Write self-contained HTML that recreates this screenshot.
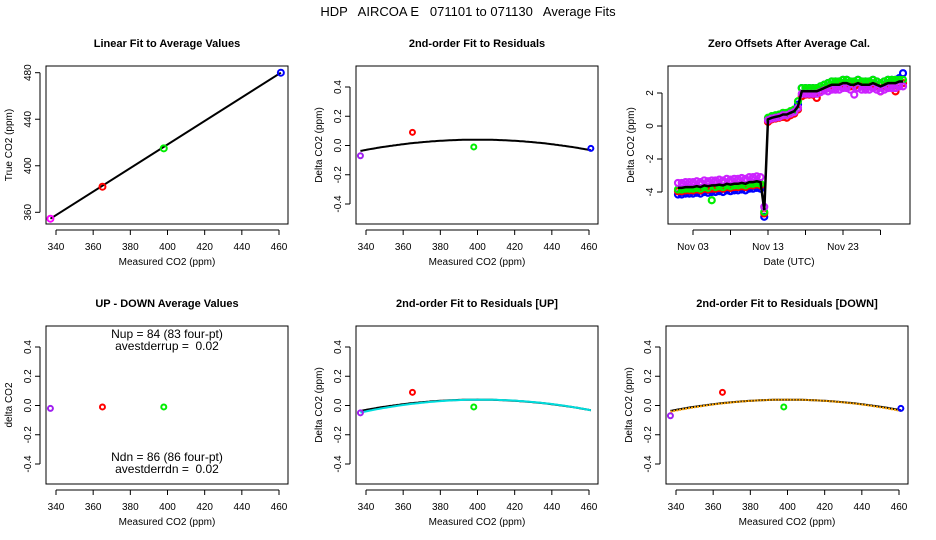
<!DOCTYPE html>
<html><head><meta charset="utf-8">
<style>
body{margin:0;background:#fff;}
svg{display:block;font-family:"Liberation Sans",Arial,sans-serif;}
</style></head>
<body>
<svg id="s" width="936" height="540" viewBox="0 0 936 540">
<rect width="936" height="540" fill="#fff"/>
<text x="468" y="16" text-anchor="middle" font-size="13" style="white-space:pre" xml:space="preserve">HDP   AIRCOA E   071101 to 071130   Average Fits</text>
</svg>
<script>
// ---------- data ----------
const calX = [337, 365, 398, 461];
const calTrue = [354.5, 382, 415, 480];
const calColors = ['#a020f0', '#ff0000', '#00ee00', '#0000ff'];
const resid = [-0.07, 0.09, -0.01, -0.02];
const residUp = [-0.05, 0.09, -0.01, null];
const residDn = [-0.07, 0.09, -0.01, -0.02];
const diffUD = [-0.02, -0.01, -0.01, null];
const fitPeak = [400, 0.04, -0.07/3600]; // vertex x, vertex y, curvature
const fitUpPeak = [402, 0.04, -0.075/3600];
const fitDnPeak = [400, 0.04, -0.075/3600];
const deltaTicks = [-0.4, -0.2, 0.0, 0.2, 0.4];
const deltaTickLabels = ['-0.4', '-0.2', '0.0', '0.2', '0.4'];
const co2Ticks = [340, 360, 380, 400, 420, 440, 460];
const trueTicks = [360, 400, 440, 480];
const offTicks = [-4, -2, 0, 2];
const dateTicks = [3, 8, 13, 18, 23, 28];
const dateLabels = ['Nov 03', '', 'Nov 13', '', 'Nov 23', ''];
const tStart = 1, tStep = 0.5;
const offBlack = [-3.75,-3.75,-3.7,-3.7,-3.7,-3.65,-3.7,-3.6,-3.65,-3.6,-3.6,-3.55,-3.6,-3.5,-3.55,-3.5,-3.5,-3.45,-3.5,-3.4,-3.4,-3.35,-3.4,-5.1,0.4,0.5,0.55,0.6,0.7,0.7,0.8,0.9,1.2,2.1,2.1,2.1,2.1,2.1,2.2,2.3,2.4,2.5,2.5,2.5,2.6,2.6,2.5,2.5,2.6,2.5,2.5,2.5,2.6,2.5,2.4,2.5,2.6,2.6,2.6,2.7,2.7];
const offBlue = [-4.15,-4.15,-4.1,-4.1,-4.1,-4.05,-4.1,-4.0,-4.05,-4.0,-4.0,-3.95,-4.0,-3.9,-3.95,-3.9,-3.9,-3.85,-3.9,-3.8,-3.8,-3.75,-3.8,-5.5,0.45,0.55,0.6,0.65,0.75,0.75,0.85,0.95,1.3,2.3,2.3,2.3,2.3,2.3,2.4,2.5,2.6,2.7,2.7,2.7,2.8,2.8,2.7,2.7,2.8,2.7,2.7,2.7,2.8,2.7,2.6,2.7,2.8,2.8,2.8,2.9,3.2];
const offRed = [-3.95,-3.95,-3.9,-3.9,-3.9,-3.85,-3.9,-3.8,-3.85,-3.8,-3.8,-3.75,-3.8,-3.7,-3.75,-3.7,-3.7,-3.65,-3.7,-3.6,-3.6,-3.55,-3.6,-5.3,0.25,0.4,0.45,0.5,0.55,0.5,0.65,0.75,1.0,1.8,1.9,1.9,1.9,1.7,2.1,2.2,2.3,2.4,2.4,2.4,2.5,2.5,2.4,2.4,2.5,2.4,2.4,2.4,2.5,2.4,2.1,2.4,2.5,2.5,2.1,2.6,2.6];
const offGreen = [-3.85,-3.85,-3.8,-3.8,-3.8,-3.75,-3.8,-3.7,-3.75,-4.5,-3.7,-3.65,-3.7,-3.6,-3.65,-3.6,-3.6,-3.55,-3.6,-3.5,-3.5,-3.45,-3.5,-5.2,0.5,0.6,0.65,0.7,0.8,0.8,0.9,1.0,1.5,2.3,2.3,2.3,2.3,2.3,2.4,2.5,2.6,2.7,2.7,2.7,2.8,2.8,2.7,2.7,2.8,2.7,2.7,2.7,2.8,2.7,2.6,2.7,2.8,2.8,2.8,2.8,2.8];
const offMagenta = [-3.45,-3.45,-3.4,-3.4,-3.4,-3.35,-3.4,-3.3,-3.35,-3.3,-3.3,-3.25,-3.3,-3.2,-3.25,-3.2,-3.2,-3.15,-3.2,-3.1,-3.1,-3.05,-3.1,-4.9,0.35,0.45,0.5,0.55,0.65,0.65,0.75,0.85,1.1,1.95,1.95,1.95,1.95,1.95,2.05,2.15,2.1,2.2,2.2,2.2,2.3,2.3,2.2,1.9,2.3,2.2,2.2,2.2,2.3,2.2,2.1,2.2,2.3,2.3,2.3,2.4,2.4];

// ---------- helpers ----------
const NS='http://www.w3.org/2000/svg';
const svg=document.getElementById('s');
function el(tag,attrs,parent,txt){const e=document.createElementNS(NS,tag);for(const k in attrs)e.setAttribute(k,attrs[k]);if(txt!==undefined)e.textContent=txt;(parent||svg).appendChild(e);return e;}
function lin(d0,d1,r0,r1){return v=>r0+(v-d0)*(r1-r0)/(d1-d0);}

function panel(name,left,top,xs,ys,title,xTitle,yTitle,xt,xtl,yt,ytl){
  const g=el('g',{},svg);
  
  
  const W=242,H=158;
  const t=el('text',{x:left+W/2,y:top-19,'text-anchor':'middle','font-size':'11','font-weight':'bold'},g,title);
  
  
  const b=el('rect',{x:left,y:top,width:W,height:H,fill:'none',stroke:'#000','stroke-width':1},g);
  
  
  const xa=el('g',{},g);
  
  
  const x0=xs(xt[0]),x1=xs(xt[xt.length-1]);
  el('line',{x1:x0,x2:x1,y1:top+H+6,y2:top+H+6,stroke:'#000'},xa);
  xt.forEach((v,i)=>{const x=xs(v);el('line',{x1:x,x2:x,y1:top+H+6,y2:top+H+11,stroke:'#000'},xa);
    if(xtl[i]){const l=el('text',{x:x,y:top+H+26,'text-anchor':'middle','font-size':'10'},xa,xtl[i]);
    
    }});
  const xtt=el('text',{x:left+W/2,y:top+H+41,'text-anchor':'middle','font-size':'10'},xa,xTitle);
  
  
  const ya=el('g',{},g);
  
  
  const y0=ys(yt[0]),y1=ys(yt[yt.length-1]);
  el('line',{x1:left-6,x2:left-6,y1:y0,y2:y1,stroke:'#000'},ya);
  yt.forEach((v,i)=>{const y=ys(v);el('line',{x1:left-11,x2:left-6,y1:y,y2:y,stroke:'#000'},ya);
    const l=el('text',{x:left-15,y:y,'text-anchor':'middle','font-size':'10',transform:`rotate(-90 ${left-15} ${y})`},ya,ytl[i]);
    
    });
  const ytt=el('text',{x:left-34,y:top+H/2,'text-anchor':'middle','font-size':'10',transform:`rotate(-90 ${left-34} ${top+H/2})`},ya,yTitle);
  
  
  return g;
}
function pts(g,xs,ys,xv,yv,colors,r,name){
  xv.forEach((x,i)=>{if(yv[i]===null||yv[i]===undefined)return;
    const c=el('circle',{cx:xs(x),cy:ys(yv[i]),r:r,fill:'none',stroke:colors[i],'stroke-width':2},g);
    
    });
}
function curve(g,xs,ys,p,from,to,color,w,dash,name){
  let d='';for(let x=from;x<=to;x+=1){const y=p[1]+p[2]*(x-p[0])*(x-p[0]);d+=(d?'L':'M')+xs(x).toFixed(1)+','+ys(y).toFixed(1);}
  const a={d:d,fill:'none',stroke:color,'stroke-width':w};if(dash)a['stroke-dasharray']=dash;
  const c=el('path',a,g);
  
  
}
const co2Lab=co2Ticks.map(String);
function deltaScale(top){return lin(0.4,-0.4,top+21,top+138);}
function co2Scale(left){return lin(340,460,left+10,left+233);}

// Panel 1
{const L=46,T=66,xs=co2Scale(L),ys=lin(480,360,T+6.7,T+146.3);
 const g=panel('linear-fit-panel',L,T,xs,ys,'Linear Fit to Average Values','Measured CO2 (ppm)','True CO2 (ppm)',co2Ticks,co2Lab,trueTicks,trueTicks.map(String));
 const fl=el('line',{x1:xs(calX[0]),y1:ys(calTrue[0]),x2:xs(calX[3]),y2:ys(calTrue[3]),stroke:'#000','stroke-width':2},g);
 
 
 pts(g,xs,ys,calX,calTrue,['#ff00ff','#ff0000','#00ee00','#0000ff'],3,'cal-point');}
// Panel 2
{const L=356,T=66,xs=co2Scale(L),ys=deltaScale(T);
 const g=panel('residual-fit-panel',L,T,xs,ys,'2nd-order Fit to Residuals','Measured CO2 (ppm)','Delta CO2 (ppm)',co2Ticks,co2Lab,deltaTicks,deltaTickLabels);
 curve(g,xs,ys,fitPeak,calX[0],calX[3],'#000',2,null,'fit-curve');
 pts(g,xs,ys,calX,resid,calColors,2.5,'residual-point');}
// Panel 3
{const L=668,T=66,xs=lin(3,13,693,768),ys=lin(2,-4,93,192);
 const g=panel('zero-offsets-panel',L,T,xs,ys,'Zero Offsets After Average Cal.','Date (UTC)','Delta CO2 (ppm)',dateTicks,dateLabels,offTicks,offTicks.map(String));
 const ser=[[offBlue,'#0000ff'],[offRed,'#ff0000'],[offGreen,'#00ee00'],[offMagenta,'#cc22ff']];
 ser.forEach(([arr,col])=>{arr.forEach((v,i)=>{const t=tStart+i*tStep;
   const c=el('circle',{cx:xs(t),cy:ys(v),r:3,fill:'none',stroke:col,'stroke-width':2.2},g);
   
   });});
 let d='';offBlack.forEach((v,i)=>{const t=tStart+i*tStep;d+=(i?'L':'M')+xs(t).toFixed(1)+','+ys(v).toFixed(1);});
 const ml=el('path',{d:d,fill:'none',stroke:'#000','stroke-width':2.5},g);
 
 }
// Panel 4
{const L=46,T=326,xs=co2Scale(L),ys=deltaScale(T);
 const g=panel('up-down-panel',L,T,xs,ys,'UP - DOWN Average Values','Measured CO2 (ppm)','delta CO2',co2Ticks,co2Lab,deltaTicks,deltaTickLabels);
 pts(g,xs,ys,calX,diffUD,calColors,2.5,'updown-point');
 [['Nup = 84 (83 four-pt)',T+12],['avestderrup =  0.02',T+24],['Ndn = 86 (86 four-pt)',T+135],['avestderrdn =  0.02',T+147]].forEach(([s,y])=>{
  const tx=el('text',{x:L+121,y:y,'text-anchor':'middle','font-size':'12',style:'white-space:pre'},g,s);
  
  });}
// Panel 5
{const L=356,T=326,xs=co2Scale(L),ys=deltaScale(T);
 const g=panel('residual-up-panel',L,T,xs,ys,'2nd-order Fit to Residuals [UP]','Measured CO2 (ppm)','Delta CO2 (ppm)',co2Ticks,co2Lab,deltaTicks,deltaTickLabels);
 curve(g,xs,ys,fitPeak,calX[0],calX[3],'#000',2,null,'fit-curve');
 curve(g,xs,ys,fitUpPeak,calX[0],calX[3],'#00dddd',2,null,'up-fit-curve');
 pts(g,xs,ys,calX,residUp,calColors,2.5,'residual-up-point');}
// Panel 6
{const L=666,T=326,xs=co2Scale(L),ys=deltaScale(T);
 const g=panel('residual-down-panel',L,T,xs,ys,'2nd-order Fit to Residuals [DOWN]','Measured CO2 (ppm)','Delta CO2 (ppm)',co2Ticks,co2Lab,deltaTicks,deltaTickLabels);
 curve(g,xs,ys,fitPeak,calX[0],calX[3],'#000',2,null,'fit-curve');
 curve(g,xs,ys,fitDnPeak,calX[0],calX[3],'#ffa500',2,'2,1','down-fit-curve');
 pts(g,xs,ys,calX,residDn,calColors,2.5,'residual-down-point');}
</script>
</body></html>
